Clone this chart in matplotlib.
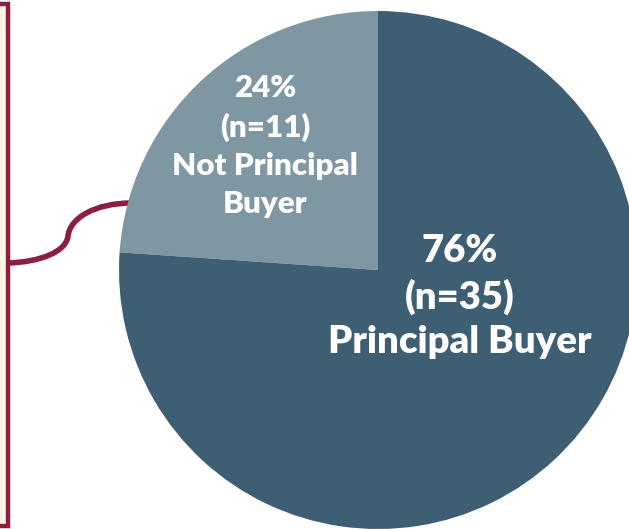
import numpy as np
import matplotlib.pyplot as plt
from matplotlib.patches import Rectangle, PathPatch
from matplotlib.path import Path

labels = ['Not Principal\nBuyer', 'Principal Buyer']
counts = [11, 35]
pcts = [24, 76]
colors = ['#7F96A3', '#3E5E74']
MAROON = '#8C1D43'

W, H = 629, 529
fig = plt.figure(figsize=(W/100, H/100), dpi=100)
fig.patch.set_facecolor('white')

# overlay axes in pixel coords for bracket and connector
bg = fig.add_axes([0, 0, 1, 1])
bg.set_xlim(0, W); bg.set_ylim(H, 0); bg.axis('off')
bg.add_patch(Rectangle((-20, 4), 28, 522, facecolor='#FFF7E6', edgecolor=MAROON, lw=3.2))
verts = [(8, 263), (40, 262), (66, 252), (68, 236),
         (70, 218), (95, 203), (132, 203)]
codes = [Path.MOVETO, Path.CURVE4, Path.CURVE4, Path.CURVE4,
         Path.CURVE4, Path.CURVE4, Path.CURVE4]
bg.add_patch(PathPatch(Path(verts, codes), facecolor='none', edgecolor=MAROON, lw=4, capstyle='butt'))

# pie: centre (378, 270) px, radius 259 px
cx, cy, r = 378, 270, 259
ax = fig.add_axes([(cx - r)/W, (H - cy - r)/H, 2*r/W, 2*r/H])
ax.pie(counts, colors=colors, startangle=90, counterclock=True, radius=1,
       wedgeprops=dict(linewidth=0))
ax.set_xlim(-1, 1); ax.set_ylim(-1, 1)
ax.set_aspect('auto')
ax.axis('off')

font = dict(family=['Lato', 'DejaVu Sans'], weight='heavy', color='white', ha='center', va='center')
ax.text(-0.436, 0.479, f'{pcts[0]}%\n(n={counts[0]})\n{labels[0]}',
        fontsize=22.5, linespacing=1.45, **font)
ax.text(0.317, -0.102, f'{pcts[1]}%\n(n={counts[1]})\n{labels[1]}',
        fontsize=27.5, linespacing=1.35, **font)

fig.savefig('out.png', dpi=100)
